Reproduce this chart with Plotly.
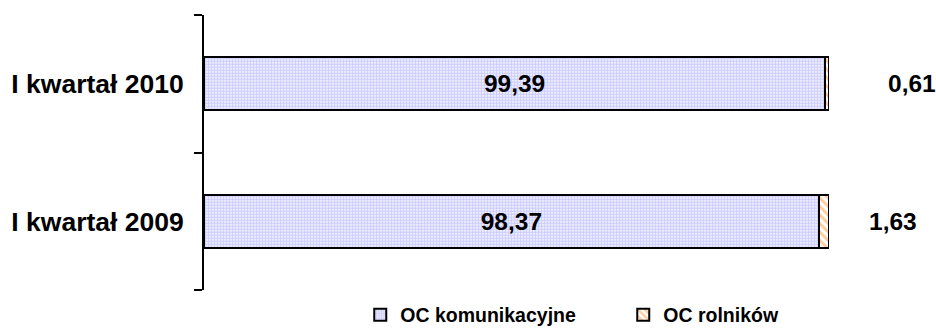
import plotly.graph_objects as go

categories = ["I kwartał 2009", "I kwartał 2010"]
oc_komunikacyjne = [98.37, 99.39]
oc_rolnikow = [1.63, 0.61]
series_names = ["OC komunikacyjne", "OC rolników"]

def fmt(v):
    return f"{v:.2f}".replace(".", ",")

LABEL_FONT = dict(family="Arial, Liberation Sans", size=24.5, color="black", weight="bold")

fig = go.Figure()
fig.add_trace(go.Bar(
    y=categories, x=oc_komunikacyjne, orientation="h", name=series_names[0],
    marker=dict(color="#ffffff", line=dict(color="black", width=2),
                pattern=dict(shape=".", fgcolor="#9c9cff", bgcolor="#ffffff", size=3, solidity=0.7)),
    text=[fmt(v) for v in oc_komunikacyjne], textposition="inside", insidetextanchor="middle",
    textfont=LABEL_FONT,
    hoverinfo="skip",
))
fig.add_trace(go.Bar(
    y=categories, x=oc_rolnikow, orientation="h", name=series_names[1],
    marker=dict(color="#ffffff", line=dict(color="black", width=2),
                pattern=dict(shape="\\", fgcolor="#ff9a3c", bgcolor="#ffffff", size=6, solidity=0.5)),
    textposition="none", hoverinfo="skip",
))

label_shift = [64, 83]
for cat, a, b, s in zip(categories, oc_komunikacyjne, oc_rolnikow, label_shift):
    fig.add_annotation(x=a + b, y=cat, text=fmt(b), showarrow=False, xanchor="center",
                       xshift=s, font=LABEL_FONT)

fig.update_layout(
    barmode="stack", bargap=0.615,
    width=936, height=329,
    margin=dict(l=204, r=107, t=15, b=39, autoexpand=False),
    plot_bgcolor="white", paper_bgcolor="white",
    showlegend=True,
    legend=dict(orientation="h", x=0.25, xanchor="left", y=-0.02, yanchor="top",
                font=dict(family="Arial, Liberation Sans", size=19.5, color="black", weight="bold"),
                entrywidth=218, traceorder="normal", itemclick=False),
    xaxis=dict(range=[0, 100], visible=False, fixedrange=True),
    yaxis=dict(type="category", categoryorder="array", categoryarray=categories,
               range=[-0.5, 1.5], showline=True, linecolor="black", linewidth=2,
               ticks="outside", tickson="boundaries", ticklen=8, tickwidth=2, tickcolor="black",
               ticklabelstandoff=13,
               showgrid=False, zeroline=False, fixedrange=True,
               tickfont=dict(family="Arial, Liberation Sans", size=26.5, color="black", weight="bold")),
)

fig.write_html("out.html", config={"displayModeBar": False},
               post_script="document.body.style.margin='0';document.body.style.overflow='hidden';")
